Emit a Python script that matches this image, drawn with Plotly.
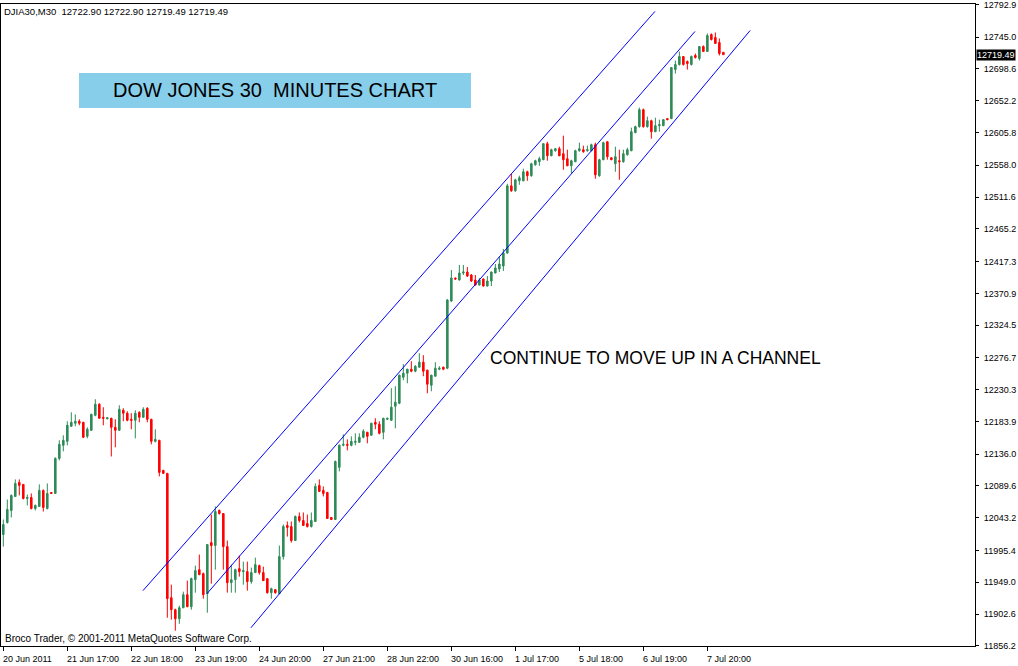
import plotly.graph_objects as go

# DJIA30 M30 candles (bar index 0 = 20 Jun 2011)
opens = [
    12018.7, 12036.2, 12053.8, 12074.3, 12094.8, 12091.9, 12071.4, 12072.8, 12056.7, 12059.7,
    12083.1, 12056.7, 12080.1, 12078.7, 12129.9, 12149.0, 12154.8, 12176.8, 12181.2, 12184.1,
    12182.6, 12162.1, 12170.9, 12192.9, 12209.0, 12189.9, 12187.7, 12188.5, 12175.3, 12170.9,
    12200.2, 12195.8, 12187.0, 12185.5, 12197.2, 12189.9, 12203.1, 12187.0, 12154.8, 12156.3,
    12112.4, 12108.0, 11926.5, 11908.9, 11895.7, 11911.8, 11930.9, 11913.3, 11952.8, 11967.4,
    11961.6, 11932.3, 12006.9, 12002.6, 12053.8, 12049.4, 12001.1, 11948.4, 11952.8, 11968.9,
    11964.5, 11964.5, 11949.9, 11963.1, 11973.3, 11963.1, 11954.3, 11933.8, 11938.2, 11932.3,
    11986.5, 12031.9, 12030.4, 12009.9, 12045.0, 12039.2, 12034.8, 12030.4, 12037.7, 12090.4,
    12083.1, 12080.2, 12043.6, 12040.6, 12116.8, 12149.0, 12150.4, 12149.0, 12153.3, 12153.3,
    12160.7, 12168.0, 12163.6, 12182.6, 12179.7, 12168.0, 12187.0, 12185.5, 12206.0, 12210.4,
    12248.4, 12254.3, 12260.1, 12257.2, 12263.1, 12270.4, 12258.7, 12236.7, 12249.9, 12260.1,
    12263.1, 12261.6, 12359.7, 12393.3, 12390.4, 12400.7, 12402.1, 12397.7, 12390.4, 12383.1,
    12391.9, 12381.6, 12389.0, 12400.7, 12406.5, 12410.9, 12429.9, 12528.0, 12520.7, 12535.3,
    12535.3, 12548.5, 12542.7, 12558.8, 12563.2, 12566.1, 12589.5, 12571.9, 12579.2, 12582.2,
    12574.9, 12567.5, 12557.3, 12563.2, 12579.2, 12580.7, 12579.2, 12579.2, 12588.0, 12542.7,
    12566.1, 12592.4, 12569.0, 12560.2, 12564.6, 12563.2, 12573.4, 12579.2, 12605.6, 12614.4,
    12639.2, 12614.4, 12623.1, 12607.0, 12615.8, 12615.8, 12626.1, 12626.1, 12697.8, 12705.1,
    12716.8, 12709.5, 12705.1, 12718.3, 12713.9, 12731.4, 12724.1, 12749.0, 12744.6, 12737.3,
    12722.90,
]
highs = [
    12040.6, 12069.9, 12077.2, 12099.2, 12099.2, 12091.9, 12077.2, 12078.7, 12062.6, 12091.9,
    12084.5, 12093.3, 12080.6, 12131.4, 12156.3, 12163.6, 12184.1, 12197.2, 12194.3, 12187.0,
    12183.3, 12175.3, 12195.0, 12216.3, 12210.4, 12204.6, 12189.9, 12189.2, 12187.0, 12207.5,
    12203.1, 12198.7, 12195.8, 12200.2, 12198.7, 12204.6, 12204.6, 12187.7, 12172.4, 12157.0,
    12113.1, 12108.7, 11945.5, 11910.4, 11914.8, 11935.2, 11951.4, 11955.7, 11973.3, 11989.4,
    11963.1, 12004.7, 12047.9, 12059.7, 12055.3, 12050.1, 12009.9, 11974.7, 11968.9, 11987.9,
    11979.1, 11979.1, 11970.4, 11985.0, 11974.7, 11971.8, 11955.0, 11941.1, 11938.9, 12002.6,
    12033.3, 12037.7, 12037.7, 12046.5, 12050.9, 12050.9, 12047.9, 12050.9, 12093.3, 12099.2,
    12089.0, 12080.9, 12044.3, 12126.8, 12150.4, 12165.0, 12157.7, 12162.1, 12166.5, 12166.5,
    12172.4, 12168.7, 12181.9, 12188.5, 12184.1, 12189.2, 12189.0, 12232.4, 12235.3, 12252.1,
    12267.4, 12260.8, 12271.8, 12266.0, 12283.5, 12280.6, 12259.4, 12252.1, 12270.4, 12264.5,
    12263.8, 12362.6, 12405.0, 12394.0, 12412.4, 12412.4, 12409.4, 12399.2, 12397.7, 12393.3,
    12392.6, 12396.3, 12402.8, 12413.8, 12424.1, 12435.8, 12530.9, 12545.6, 12538.3, 12542.7,
    12552.9, 12550.0, 12561.7, 12566.1, 12570.5, 12590.2, 12592.4, 12582.2, 12582.9, 12585.1,
    12601.2, 12580.7, 12566.1, 12580.7, 12591.0, 12586.6, 12586.6, 12589.5, 12591.0, 12567.5,
    12592.4, 12593.1, 12569.7, 12585.1, 12580.7, 12580.7, 12583.6, 12612.9, 12615.8, 12642.2,
    12640.7, 12629.0, 12624.6, 12627.5, 12624.6, 12625.3, 12626.8, 12701.4, 12710.9, 12724.1,
    12717.5, 12710.9, 12718.3, 12721.2, 12732.1, 12732.9, 12750.5, 12750.5, 12751.9, 12743.2,
    12722.90,
]
lows = [
    12001.1, 12034.8, 12043.6, 12074.3, 12075.8, 12069.9, 12061.1, 12055.3, 12053.8, 12059.7,
    12052.3, 12055.3, 12078.2, 12078.7, 12127.0, 12140.2, 12149.0, 12176.1, 12176.8, 12178.2,
    12159.8, 12159.2, 12170.2, 12191.4, 12187.8, 12178.2, 12187.0, 12132.7, 12146.1, 12170.2,
    12184.1, 12184.1, 12172.4, 12159.2, 12182.6, 12189.2, 12182.6, 12150.4, 12153.3, 12103.6,
    12107.3, 11897.2, 11894.3, 11878.2, 11888.4, 11911.1, 11912.6, 11908.9, 11933.8, 11959.4,
    11925.0, 11904.5, 11946.9, 11967.4, 12047.9, 11967.4, 11933.8, 11933.8, 11933.8, 11957.2,
    11945.5, 11936.7, 11946.9, 11962.4, 11960.1, 11950.7, 11932.3, 11925.0, 11932.3, 11931.6,
    11982.1, 12015.7, 12006.9, 12009.2, 12036.2, 12031.2, 12028.9, 12028.9, 12037.0, 12081.0,
    12074.3, 12041.4, 12040.0, 12040.0, 12110.9, 12147.5, 12141.6, 12147.5, 12149.0, 12152.6,
    12159.2, 12151.9, 12162.9, 12172.4, 12165.0, 12157.7, 12186.3, 12184.8, 12173.8, 12209.0,
    12244.0, 12239.6, 12255.7, 12255.7, 12262.4, 12249.9, 12225.0, 12227.9, 12249.2, 12258.7,
    12258.7, 12260.1, 12358.2, 12390.4, 12389.7, 12397.7, 12394.8, 12387.5, 12382.4, 12382.4,
    12380.9, 12380.9, 12381.6, 12400.0, 12402.1, 12403.6, 12428.5, 12519.2, 12519.2, 12529.5,
    12534.6, 12535.3, 12541.2, 12557.3, 12557.3, 12565.4, 12564.6, 12571.2, 12577.8, 12571.2,
    12551.4, 12556.6, 12545.6, 12562.5, 12577.8, 12576.3, 12577.8, 12578.5, 12538.3, 12541.2,
    12565.4, 12566.1, 12565.4, 12548.5, 12536.8, 12561.7, 12571.9, 12578.5, 12604.9, 12612.9,
    12612.9, 12612.9, 12596.8, 12606.3, 12607.0, 12615.1, 12623.9, 12625.4, 12691.9, 12703.6,
    12703.6, 12697.8, 12703.6, 12713.9, 12710.9, 12723.4, 12723.4, 12740.2, 12735.1, 12718.3,
    12719.49,
]
closes = [
    12033.3, 12055.3, 12075.8, 12093.3, 12090.4, 12071.4, 12072.8, 12056.7, 12061.1, 12083.1,
    12058.2, 12078.7, 12078.7, 12129.9, 12150.4, 12156.3, 12178.2, 12182.6, 12184.1, 12181.2,
    12160.7, 12172.4, 12194.3, 12209.0, 12188.5, 12188.5, 12189.2, 12175.3, 12170.9, 12201.6,
    12195.8, 12185.5, 12185.5, 12195.8, 12189.9, 12201.6, 12187.0, 12154.8, 12157.7, 12109.4,
    12108.0, 11925.0, 11908.9, 11895.7, 11911.8, 11930.9, 11913.3, 11954.3, 11966.0, 11960.1,
    11930.9, 12004.0, 12002.6, 12052.3, 12049.4, 12001.1, 11948.4, 11952.8, 11967.4, 11964.5,
    11966.0, 11949.9, 11963.1, 11974.7, 11963.1, 11951.4, 11933.8, 11939.6, 11933.8, 11986.5,
    12030.4, 12028.9, 12009.9, 12045.0, 12039.2, 12031.9, 12030.4, 12039.2, 12089.0, 12081.7,
    12078.7, 12042.1, 12040.6, 12125.3, 12149.0, 12150.4, 12149.0, 12154.8, 12154.8, 12160.7,
    12169.5, 12162.1, 12181.2, 12179.7, 12166.5, 12188.5, 12188.5, 12204.6, 12211.9, 12251.4,
    12254.3, 12260.1, 12257.2, 12264.5, 12270.4, 12257.2, 12238.2, 12251.4, 12261.6, 12261.6,
    12260.1, 12361.2, 12393.3, 12391.9, 12400.7, 12402.1, 12396.3, 12389.0, 12383.1, 12390.4,
    12381.6, 12389.0, 12402.1, 12408.0, 12413.8, 12429.9, 12528.0, 12520.7, 12536.8, 12539.7,
    12548.5, 12542.7, 12560.2, 12564.6, 12567.5, 12589.5, 12571.9, 12580.7, 12582.2, 12571.9,
    12566.1, 12557.3, 12564.6, 12579.2, 12582.2, 12577.8, 12580.7, 12588.0, 12544.1, 12566.1,
    12591.0, 12570.5, 12566.1, 12570.5, 12563.2, 12574.9, 12580.7, 12607.0, 12614.4, 12639.2,
    12614.4, 12623.1, 12607.0, 12615.8, 12617.3, 12624.6, 12624.6, 12700.7, 12705.1, 12716.8,
    12705.1, 12706.6, 12716.8, 12715.3, 12731.4, 12724.1, 12747.5, 12741.7, 12735.8, 12721.2,
    12719.49,
]

# time axis labels every 16 bars
time_tick_bars = [0, 16, 32, 48, 64, 80, 96, 112, 128, 144, 160, 176]
time_tick_labels = ["20 Jun 2011", "21 Jun 17:00", "22 Jun 18:00", "23 Jun 19:00",
                    "24 Jun 20:00", "27 Jun 21:00", "28 Jun 22:00", "30 Jun 16:00",
                    "1 Jul 17:00", "5 Jul 18:00", "6 Jul 19:00", "7 Jul 20:00"]

price_ticks = ["12792.9", "12745.0", "12698.6", "12652.2", "12605.8", "12558.0", "12511.6",
               "12465.2", "12417.3", "12370.9", "12324.5", "12276.7", "12230.3", "12183.9",
               "12136.0", "12089.6", "12043.2", "11995.4", "11949.0", "11902.6", "11856.2"]

# channel lines: (bar, price) endpoints
channel_upper = ([34.9, 162.9], [11936.7, 12782.7])
channel_middle = ([50.9, 172.9], [11932.3, 12753.4])
channel_lower = ([61.9, 186.7], [11882.5, 12754.9])

GREEN = "#2E8B57"
RED = "#FF0000"
FONT = "Liberation Sans"

bars = list(range(len(closes)))

fig = go.Figure()
fig.add_trace(go.Candlestick(
    x=bars, open=opens, high=highs, low=lows, close=closes,
    increasing=dict(line=dict(color=GREEN, width=1), fillcolor=GREEN),
    decreasing=dict(line=dict(color=RED, width=1), fillcolor=RED),
    whiskerwidth=0, hoverinfo="skip",
))

for xs, ys in (channel_upper, channel_middle, channel_lower):
    fig.add_trace(go.Scatter(x=xs, y=ys, mode="lines",
                             line=dict(color="#0000FF", width=1), hoverinfo="skip"))

annotations = []
for b, lab in zip(time_tick_bars, time_tick_labels):
    annotations.append(dict(x=b, y=0, xref="x", yref="paper", text=lab, showarrow=False,
                            xanchor="left", yanchor="top", xshift=-2, yshift=-6,
                            font=dict(family=FONT, size=9, color="black")))

annotations += [
    dict(x=0, y=1, xref="paper", yref="paper", xanchor="left", yanchor="top",
         xshift=1, text="DJIA30,M30  12722.90 12722.90 12719.49 12719.49", showarrow=False,
         font=dict(family=FONT, size=9.5, color="black")),
    dict(x=0, y=0, xref="paper", yref="paper", xanchor="left", yanchor="bottom",
         xshift=2, text="Broco Trader, © 2001-2011 MetaQuotes Software Corp.", showarrow=False,
         font=dict(family=FONT, size=10, color="black")),
    dict(x=0.2813, y=0.8653, xref="paper", yref="paper", xanchor="center", yanchor="middle",
         text="DOW JONES 30\u00a0 MINUTES CHART",
         showarrow=False, font=dict(family="Liberation Sans", size=20, color="black")),
    dict(x=0.6715, y=0.4486, xref="paper", yref="paper", xanchor="center", yanchor="middle",
         text="CONTINUE TO MOVE UP IN A CHANNEL",
         showarrow=False, font=dict(family="Liberation Sans", size=17.5, color="black")),
    dict(x=1, y=closes[-1], xref="paper", yref="y", xanchor="left", yanchor="middle", xshift=1,
         text="12719.49", showarrow=False, bgcolor="black", borderpad=0,
         font=dict(family=FONT, size=9, color="white")),
]

fig.update_layout(
    width=1018, height=666,
    margin=dict(l=1, r=43, t=4, b=20),
    paper_bgcolor="white", plot_bgcolor="white",
    showlegend=False, boxgap=0.45,
    shapes=[dict(type="rect", xref="paper", yref="paper", x0=0.0801, x1=0.4825,
                 y0=0.838, y1=0.8925, fillcolor="#87CEEB", line=dict(width=0), layer="below")],
    annotations=annotations,
    xaxis=dict(range=[-0.575, 242.9], rangeslider=dict(visible=False), showgrid=False,
               zeroline=False, showline=True, linecolor="black", linewidth=1, mirror=True,
               tickmode="array", tickvals=time_tick_bars, showticklabels=False,
               ticks="outside", ticklen=4, tickcolor="black"),
    yaxis=dict(side="right", range=[11855.9, 12793.5], showgrid=False, zeroline=False,
               showline=True, linecolor="black", linewidth=1, mirror=True,
               tickmode="array", tickvals=[float(t) for t in price_ticks], ticktext=price_ticks,
               ticks="outside", ticklen=3, tickcolor="black", ticklabelstandoff=3,
               ticklabeloverflow="allow",
               tickfont=dict(family=FONT, size=9, color="black")),
)

fig.write_html("out.html", config={"displayModeBar": False},
               post_script="document.body.style.margin='0';")
